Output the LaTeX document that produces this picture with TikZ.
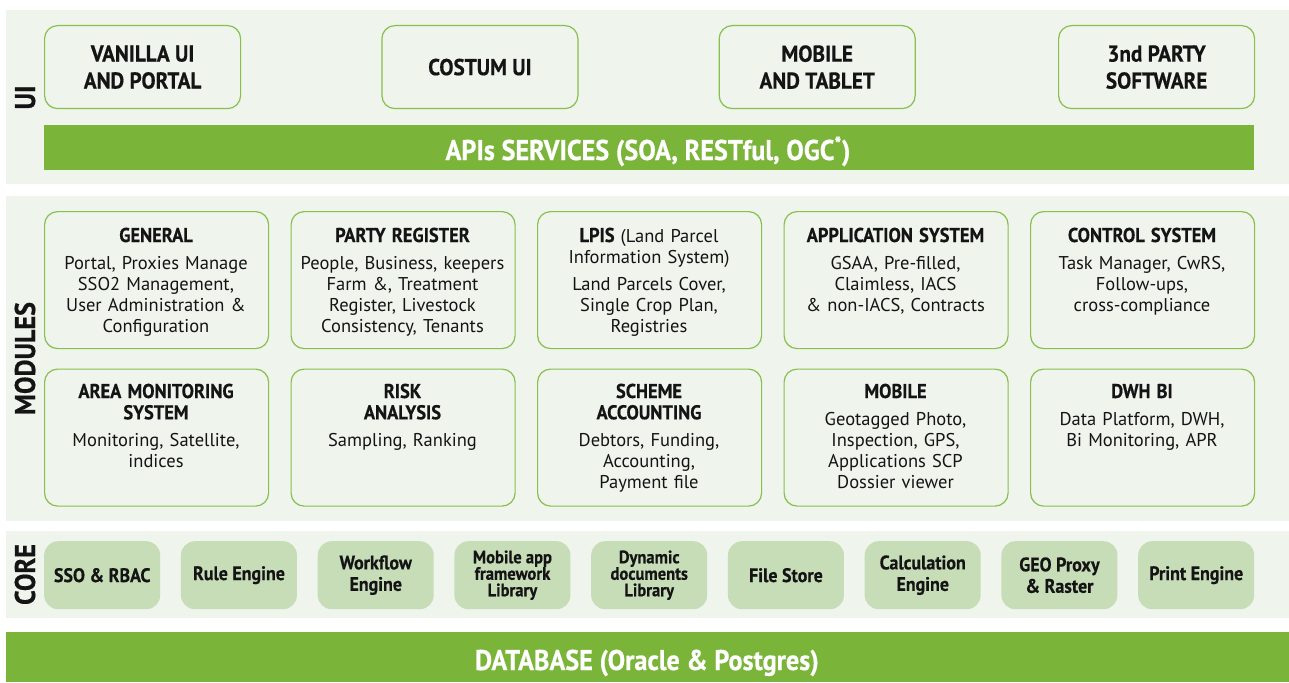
\documentclass[tikz,border=0pt]{standalone}
\usepackage{fontspec}
\setmainfont{PT Sans}[BoldFeatures={FakeStretch=0.92,FakeBold=0.5}]
\definecolor{panelbg}{RGB}{239,244,237}
\definecolor{barg}{RGB}{122,181,57}
\definecolor{bord}{RGB}{135,192,75}
\definecolor{corefill}{RGB}{198,221,184}
\definecolor{txt}{RGB}{20,20,20}
\newcommand\hdg[1]{{\bfseries\fontsize{20}{21.3}\selectfont #1}}
\tikzset{
  panel/.style={fill=panelbg, draw=none, inner sep=0, outer sep=0, anchor=north west},
  bar/.style={fill=barg, draw=none, inner sep=0, outer sep=0, anchor=north west},
  bartext/.style={text=white, font=\bfseries\fontsize{28.5}{32}\selectfont, anchor=base, inner sep=0},
  uibox/.style={draw=bord, line width=1.2pt, rounded corners=13pt, minimum width=196pt, minimum height=83pt, anchor=north west, inner sep=0, align=center, font=\bfseries\fontsize{23}{27}\selectfont, text=txt},
  modbox/.style={draw=bord, line width=1.2pt, rounded corners=13pt, minimum width=224pt, minimum height=137pt, anchor=north west, inner sep=0},
  modtext/.style={text width=224pt, align=center, anchor=base, inner sep=0, font=\fontsize{18.5}{21.3}\selectfont, text=txt},
  corebox/.style={fill=corefill, draw=none, rounded corners=14pt, minimum width=116pt, minimum height=68pt, anchor=north west, inner sep=0, align=center, text=txt},
  coretwo/.style={corebox, font=\bfseries\fontsize{19.5}{21.5}\selectfont},
  corethree/.style={corebox, font=\bfseries\fontsize{18}{16.5}\selectfont},
  sidelabel/.style={rotate=90, anchor=base, inner sep=0, font=\bfseries\fontsize{28.5}{30}\selectfont, text=txt},
}
\begin{document}
\begin{tikzpicture}[x=1pt,y=-1pt]
\useasboundingbox (0,0) rectangle (1289,682);
% ---------- UI layer ----------
\node[panel, minimum width=1283pt, minimum height=174pt] (uipanel) at (6,10) {};
\node[sidelabel] (uilabel) at (35,97.5) {UI};
\node[uibox] (ui1) at (44,25) {VANILLA UI\\AND PORTAL};
\node[uibox] (ui2) at (381.3,25) {COSTUM UI};
\node[uibox] (ui3) at (718.6,25) {MOBILE\\AND TABLET};
\node[uibox] (ui4) at (1058,25) {3nd PARTY\\SOFTWARE};
\node[bar, minimum width=1210pt, minimum height=45pt] (api) at (44,125) {};
\node[bartext] (apitext) at (648,160) {APIs SERVICES (SOA, RESTful, OGC\textsuperscript{*})};
% ---------- MODULES layer ----------
\node[panel, minimum width=1283pt, minimum height=325pt] (modpanel) at (6,196) {};
\node[sidelabel] (modlabel) at (35,358.5) {MODULES};
\node[modbox] (m1) at (44,211) {};
\node[modbox] (m2) at (290.5,211) {};
\node[modbox] (m3) at (537,211) {};
\node[modbox] (m4) at (783.5,211) {};
\node[modbox] (m5) at (1030,211) {};
\node[modbox] (m6) at (44,368.5) {};
\node[modbox] (m7) at (290.5,368.5) {};
\node[modbox] (m8) at (537,368.5) {};
\node[modbox] (m9) at (783.5,368.5) {};
\node[modbox] (m10) at (1030,368.5) {};
\node[modtext] (t1) at (156,242) {\hdg{GENERAL}\\[5.7pt]Portal, Proxies Manage\\SSO2 Management,\\User Administration \&\\Configuration};
\node[modtext] (t2) at (402.5,242) {\hdg{PARTY REGISTER}\\[5.7pt]People, Business, keepers\\Farm \&, Treatment\\Register, Livestock\\Consistency, Tenants};
\node[modtext] (t3) at (649,242) {\hdg{LPIS} (Land Parcel\\Information System)\\[5.7pt]Land Parcels Cover,\\Single Crop Plan,\\Registries};
\node[modtext] (t4) at (895.5,242) {\hdg{APPLICATION SYSTEM}\\[5.7pt]GSAA, Pre-filled,\\Claimless, IACS\\\& non-IACS, Contracts};
\node[modtext] (t5) at (1142,242) {\hdg{CONTROL SYSTEM}\\[5.7pt]Task Manager, CwRS,\\Follow-ups,\\cross-compliance};
\node[modtext] (t6) at (156,398) {\hdg{AREA MONITORING}\\\hdg{SYSTEM}\\[5.7pt]Monitoring, Satellite,\\indices};
\node[modtext] (t7) at (402.5,398) {\hdg{RISK}\\\hdg{ANALYSIS}\\[5.7pt]Sampling, Ranking};
\node[modtext] (t8) at (649,398) {\hdg{SCHEME}\\\hdg{ACCOUNTING}\\[5.7pt]Debtors, Funding,\\Accounting,\\Payment file};
\node[modtext] (t9) at (895.5,398) {\hdg{MOBILE}\\[5.7pt]Geotagged Photo,\\Inspection, GPS,\\Applications SCP\\Dossier viewer};
\node[modtext] (t10) at (1142,398) {\hdg{DWH BI}\\[5.7pt]Data Platform, DWH,\\Bi Monitoring, APR};
% ---------- CORE layer ----------
\node[panel, minimum width=1283pt, minimum height=87pt] (corepanel) at (6,531) {};
\node[sidelabel] (corelabel) at (35,574.5) {CORE};
\node[coretwo] (c1) at (44,541) {SSO \& RBAC};
\node[coretwo] (c2) at (180.75,541) {Rule Engine};
\node[coretwo] (c3) at (317.5,541) {Workflow\\Engine};
\node[corethree] (c4) at (454.25,541) {Mobile app\\framework\\Library};
\node[corethree] (c5) at (591,541) {Dynamic\\documents\\Library};
\node[coretwo] (c6) at (727.75,541) {File Store};
\node[coretwo] (c7) at (864.5,541) {Calculation\\Engine};
\node[coretwo] (c8) at (1001.25,541) {GEO Proxy\\\& Raster};
\node[coretwo] (c9) at (1138,541) {Print Engine};
% ---------- DATABASE ----------
\node[bar, minimum width=1283pt, minimum height=50pt] (db) at (6,632) {};
\node[bartext] (dbtext) at (647,670) {DATABASE (Oracle \& Postgres)};
\end{tikzpicture}
\end{document}
